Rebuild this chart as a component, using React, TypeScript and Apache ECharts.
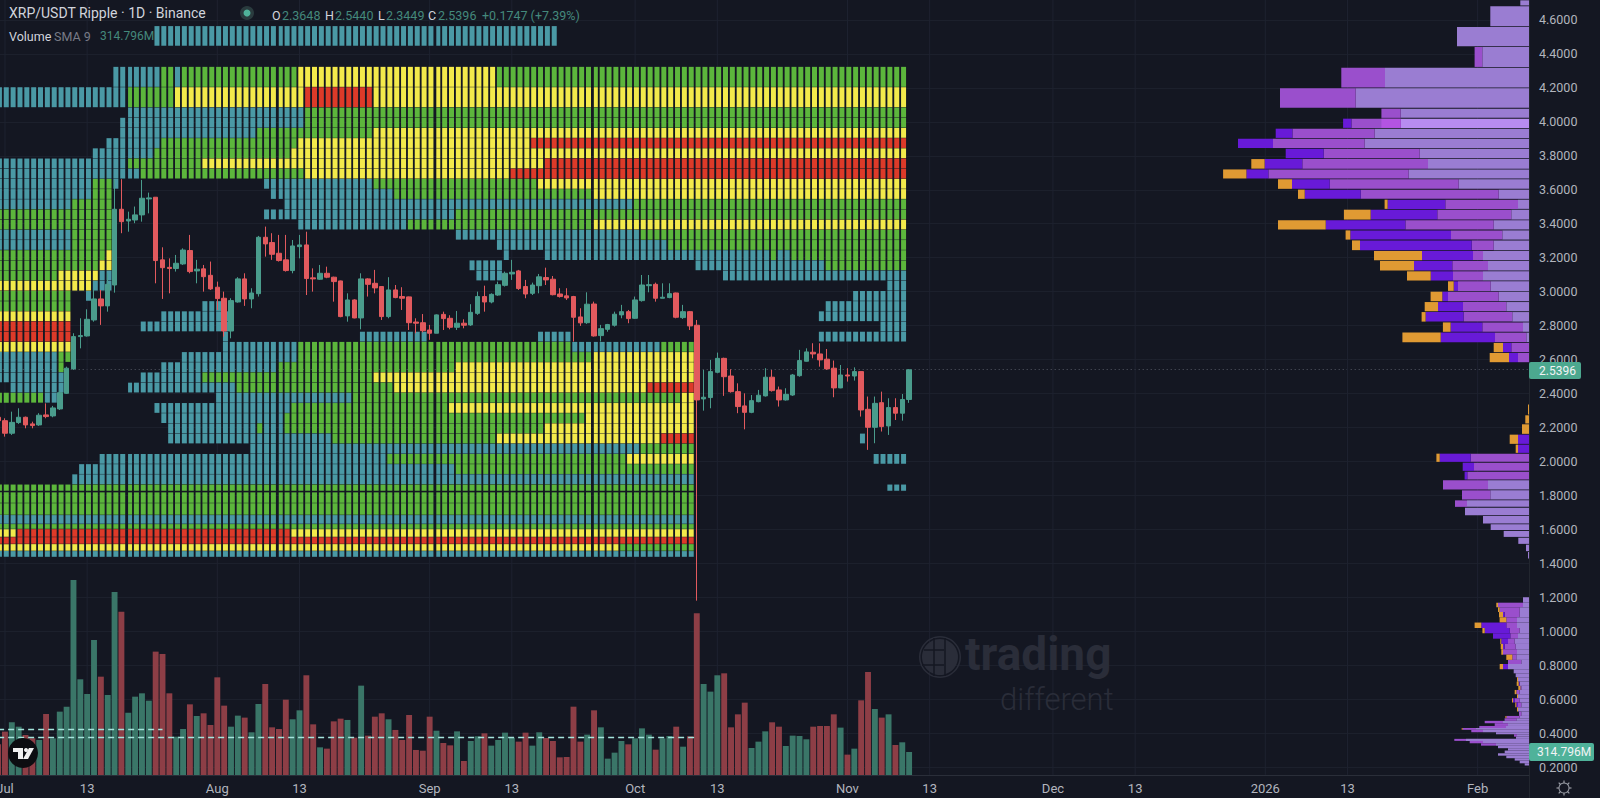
import React, { useEffect, useRef } from "react";
import * as echarts from "echarts";

const FIRST_DAY = Date.UTC(2025, 5, 30);
const CATEGORY_COUNT = 224;
const tickLabels: Record<string, string> = {
  "07-01": "Jul", "07-13": "13", "08-01": "Aug", "08-13": "13", "09-01": "Sep", "09-13": "13",
  "10-01": "Oct", "10-13": "13", "11-01": "Nov", "11-13": "13", "12-01": "Dec", "12-13": "13",
  "01-01": "2026", "01-13": "13", "02-01": "Feb",
};
const priceTicks = [4.6, 4.4, 4.2, 4.0, 3.8, 3.6, 3.4, 3.2, 3.0, 2.8, 2.6, 2.4, 2.2, 2.0, 1.8, 1.6, 1.4, 1.2, 1.0, 0.8, 0.6, 0.4, 0.2];

// open, close, low, high; first entry is the 30 June candle, mostly outside the left edge
const candles: number[][] = [
  [2.26, 2.24, 2.22, 2.28],
  [2.240,2.166,2.146,2.254],[2.166,2.230,2.156,2.293],[2.229,2.260,2.221,2.313],[2.260,2.215,2.195,2.264],[2.221,2.211,2.195,2.234],
  [2.215,2.272,2.209,2.284],[2.274,2.264,2.254,2.342],[2.268,2.315,2.260,2.327],[2.309,2.405,2.303,2.421],[2.401,2.549,2.397,2.558],
  [2.545,2.735,2.539,2.755],[2.735,2.741,2.666,2.843],[2.739,2.837,2.735,2.896],[2.833,2.957,2.823,3.010],[2.957,2.916,2.804,3.010],
  [2.916,3.043,2.882,3.108],[3.039,3.485,2.994,3.658],[3.485,3.412,3.344,3.662],[3.416,3.426,3.353,3.471],[3.422,3.452,3.403,3.501],
  [3.452,3.550,3.412,3.658],[3.546,3.552,3.461,3.583],[3.556,3.183,3.049,3.556],[3.187,3.141,2.957,3.261],[3.143,3.136,2.990,3.196],
  [3.136,3.167,3.118,3.216],[3.163,3.245,3.157,3.255],[3.242,3.118,3.108,3.334],[3.122,3.132,3.049,3.187],[3.134,3.088,3.000,3.157],
  [3.096,3.016,3.010,3.177],[3.026,2.959,2.892,3.059],[2.961,2.768,2.735,3.000],[2.768,2.947,2.725,2.961],[2.939,3.075,2.935,3.085],
  [3.075,2.957,2.916,3.108],[2.957,2.992,2.902,3.020],[2.988,3.320,2.971,3.328],[3.320,3.281,3.206,3.383],[3.289,3.220,3.187,3.344],
  [3.226,3.183,3.177,3.334],[3.187,3.124,3.118,3.334],[3.124,3.269,3.108,3.304],[3.265,3.275,3.196,3.334],[3.275,3.077,2.980,3.353],
  [3.081,3.075,3.000,3.137],[3.073,3.108,3.069,3.157],[3.108,3.085,3.079,3.147],[3.085,3.059,2.941,3.088],[3.063,2.853,2.849,3.065],
  [2.857,2.951,2.823,2.990],[2.951,2.845,2.843,2.955],[2.845,3.075,2.778,3.108],[3.075,3.043,2.971,3.079],[3.049,3.022,2.990,3.128],
  [3.030,2.853,2.833,3.030],[2.853,3.010,2.843,3.085],[3.010,2.965,2.961,3.039],[2.971,2.961,2.892,3.026],[2.969,2.817,2.774,2.971],
  [2.821,2.814,2.755,2.843],[2.817,2.770,2.760,2.868],[2.774,2.755,2.716,2.804],[2.755,2.863,2.755,2.866],[2.866,2.841,2.774,2.882],
  [2.843,2.790,2.778,2.861],[2.790,2.814,2.774,2.886],[2.814,2.802,2.784,2.837],[2.804,2.878,2.798,2.926],[2.872,2.971,2.863,3.000],
  [2.971,2.939,2.882,3.035],[2.939,2.984,2.931,2.990],[2.980,3.041,2.975,3.059],[3.037,3.108,3.030,3.118],[3.104,3.114,3.069,3.187],
  [3.122,3.018,3.010,3.128],[3.030,2.986,2.961,3.069],[2.990,3.039,2.980,3.053],[3.035,3.087,2.990,3.104],[3.083,3.069,3.039,3.141],
  [3.073,2.982,2.978,3.092],[2.986,2.971,2.965,3.020],[2.975,2.963,2.951,3.020],[2.971,2.849,2.706,2.975],[2.851,2.816,2.798,2.902],
  [2.817,2.926,2.810,2.996],[2.927,2.739,2.735,2.941],[2.741,2.782,2.706,2.804],[2.778,2.806,2.764,2.810],[2.802,2.867,2.794,2.882],
  [2.863,2.882,2.843,2.922],[2.882,2.841,2.814,2.892],[2.843,2.951,2.839,2.971],[2.947,3.039,2.941,3.098],[3.035,3.041,2.996,3.098],
  [3.043,2.961,2.941,3.053],[2.961,2.967,2.961,3.049],[2.965,2.988,2.961,3.049],[2.992,2.849,2.843,2.994],[2.847,2.882,2.839,2.922],
  [2.882,2.798,2.774,2.886],[2.802,2.362,1.18,2.833],[2.368,2.378,2.299,2.539],[2.376,2.529,2.313,2.598],[2.525,2.607,2.519,2.641],
  [2.607,2.499,2.386,2.611],[2.503,2.411,2.405,2.543],[2.411,2.323,2.284,2.460],[2.327,2.289,2.189,2.401],[2.289,2.358,2.284,2.391],
  [2.352,2.390,2.348,2.421],[2.386,2.496,2.382,2.549],[2.496,2.417,2.411,2.539],[2.421,2.362,2.323,2.441],[2.362,2.395,2.358,2.431],
  [2.391,2.509,2.386,2.515],[2.505,2.594,2.499,2.657],[2.590,2.645,2.588,2.666],[2.643,2.633,2.607,2.696],[2.633,2.598,2.558,2.696],
  [2.602,2.545,2.539,2.662],[2.549,2.433,2.378,2.594],[2.433,2.509,2.431,2.568],[2.509,2.503,2.470,2.549],[2.503,2.529,2.476,2.554],
  [2.529,2.303,2.264,2.529],[2.307,2.201,2.068,2.382],[2.201,2.342,2.107,2.382],[2.346,2.205,2.176,2.411],[2.209,2.317,2.156,2.372],
  [2.317,2.284,2.244,2.372],[2.284,2.3648,2.240,2.397],[2.3648,2.5396,2.3449,2.5440],
];

// volume in millions, same days as the candles
const volumes = [
  420,594,722,662,548,502,480,836,502,868,936,2672,1311,1110,1850,1347,1096,2507,2238,854,1073,1119,1018,1690,1658,1119,525,630,968,808,845,685,
  1338,950,662,813,786,585,973,1247,653,630,1032,763,886,1366,694,379,361,735,772,754,512,1224,539,799,845,763,617,480,822,343,333,799,607,438,
  406,598,192,466,530,571,402,480,580,507,457,580,402,585,507,466,242,247,936,457,553,886,653,224,306,466,420,502,639,553,347,502,534,662,388,530,
  2215,1247,1142,1366,1393,653,831,991,370,457,598,722,662,397,539,534,489,662,671,671,831,649,279,361,1023,1411,904,786,831,411,448,315,
];

const lastPrice = 2.5396;
const lastVolumeLabel = "314.796M";
const smaValueLong = 511;
const smaValueShort = 630;

// price edges of the heat-map rows
const rowEdges = [
  4.565,4.447,4.325,4.205,4.085,4.025,3.965,3.905,3.845,3.785,3.725,3.665,3.605,3.545,3.485,3.425,3.365,3.305,3.245,3.185,3.125,
  3.065,3.005,2.945,2.885,2.825,2.765,2.705,2.645,2.585,2.525,2.465,2.405,2.345,2.285,2.225,2.165,2.105,2.045,1.985,1.925,1.865,
  1.826,1.755,1.685,1.632,1.602,1.555,1.514,1.473,1.437,
];
const heavyEdge = 1.826;
const heavyGapDays = [18, 40, 63, 86];

// one entry per row: runs of days (day 0 = 1 July) with a level b, g, y or r
const rowRuns = [
  "b22:80",
  "",
  "b16:22 g23:24 b25:25 g26:42 y43:71 g72:131",
  "b-1:17 g18:24 y25:43 r44:53 y54:131",
  "b18:43 g44:131",
  "b17:43 g44:131",
  "b17:36 g37:53 y54:131",
  "b15:22 g23:42 y43:76 r77:131",
  "b13:21 g22:41 y42:131",
  "b-1:17 g18:28 y29:78 r79:131",
  "b-1:19 g20:43 y44:73 r74:131",
  "b-1:12 g13:15 b16:16 b38:53 g54:77 y78:131",
  "b-1:12 g13:15 b39:56 g57:85 y86:131",
  "b-1:9 g10:15 b41:91 g92:131",
  "g-1:15 b38:65 g66:131",
  "g-1:15 b43:58 g59:85 y86:131",
  "b-1:9 g10:15 b66:92 g93:131",
  "b-1:9 g10:15 b72:96 g97:131",
  "g-1:14 y15:15 b73:73 b79:111 g112:112 b113:114 g115:131",
  "g-1:13 y14:15 b68:72 b101:119 g120:131",
  "g-1:7 y8:13 b14:15 b69:72 b105:131",
  "y-1:12 b13:15 b129:131",
  "g-1:9 b12:12 b124:131",
  "g-1:9 b29:31 b120:131",
  "y-1:9 b23:32 b119:131",
  "r-1:9 b20:32 b128:131",
  "r-1:9 b32:32 b52:61 b78:82 b119:131",
  "y-1:9 b32:42 g43:82 b83:95 g96:100",
  "b-1:7 g8:9 b26:42 g43:85 y86:100",
  "b-1:7 g8:8 b23:39 g40:65 y66:100",
  "b-1:8 b20:28 g29:53 y54:100",
  "b1:8 b18:33 g34:56 y57:93 r94:100",
  "g-1:5 b6:7 b31:50 g51:98 y99:100",
  "b22:41 g42:64 y65:100",
  "b23:40 g41:84 y85:100",
  "b24:36 g37:37 b38:40 g41:78 y79:100",
  "b24:47 g48:71 y72:95 r96:100 b125:125",
  "b36:92 g93:100",
  "b14:55 g56:90 y91:100 b127:131",
  "b11:65 g66:100",
  "b10:100",
  "g-1:100 b129:131",
  "g-1:100",
  "g-1:100",
  "b-1:100",
  "g-1:100",
  "y-1:1 r2:41 y42:100",
  "r-1:100",
  "y-1:89 g90:100",
  "b-1:100",
];

// volume profile: top price, bottom price, then four stacked amounts from the right
const upperProfile = [
  [4.718,4.683,8.7,0,0,0],[4.683,4.561,38.7,0,0,0],[4.561,4.443,72,0,0,0],[4.443,4.321,46.7,7.7,0,0],[4.321,4.2,144,43.7,0,0],
  [4.2,4.08,173.3,75.7,0,0],[4.08,4.021,128.3,19.3,0,0],
];
const profileRest = [
  [4.021,3.962,128.3,49.3,8.3,0],[3.962,3.903,154.3,82.3,16.7,0],[3.903,3.844,164.3,91.7,35,0],[3.844,3.783,109.3,96,38,0],
  [3.783,3.722,101,125.7,37.7,13.3],[3.722,3.664,120.3,140.3,22,23.3],[3.664,3.603,70.3,129,37.7,14],[3.603,3.544,30.3,138,56,6.7],
  [3.544,3.485,11,72.7,57.7,3],[3.485,3.422,17.7,74,66.7,26.7],[3.422,3.363,35.3,88.3,79.7,47.7],[3.363,3.304,26.7,51.3,100.7,4.7],
  [3.304,3.242,35.3,22,111.7,8],[3.242,3.183,46,10,51,48],[3.183,3.122,41,35.7,38.3,34],[3.122,3.063,46,30,22.3,23.7],
  [3.063,3.002,38.3,32.7,4.3,5.7],[3.002,2.941,30.3,50.7,5.7,11.7],[2.941,2.882,22.7,43.3,25,13.3],[2.882,2.821,16.7,48.7,38,4],
  [2.821,2.761,6,40.7,31.7,7.7],[2.761,2.700,2.7,31.3,54.3,38.3],[2.700,2.641,0,17.7,8.3,9.3],[2.641,2.582,0,11,9,19.3],
];
const middleProfile = [
  [2.338,2.274,0,0,0,1],[2.274,2.221,0,0,0,3.7],[2.221,2.160,0,0,0,7],[2.160,2.101,0,0,11,8.3],[2.101,2.048,0,0,11,2.3],
  [2.048,1.995,0,58.3,31,3.3],[1.995,1.942,0,55,11.3,0],[1.942,1.891,0,61.7,2.7,0],[1.891,1.832,41,45,0,0],[1.832,1.773,38.7,28.3,0,0],
  [1.773,1.730,62,12,0,0],[1.730,1.681,64,0,0,0],[1.681,1.632,46,0,0,0],[1.632,1.593,38.3,0,0,0],[1.593,1.553,25.3,0,0,0],
  [1.553,1.512,10.7,0,0,0],[1.512,1.469,3,0,0,0],[1.469,1.426,1,0,0,0],
];
const lowerProfile = [
  [1.200,1.168,6,0,0,0],[1.168,1.141,6,25,0,1.7],[1.141,1.113,9.3,20,0,1.7],[1.113,1.082,9.3,15,1.7,4],[1.082,1.051,12,10.7,0,6.7],
  [1.051,1.019,12,10.7,25,6.7],[1.019,0.988,9.3,10,25,2.3],[0.988,0.956,11,7.7,17.3,0],[0.956,0.925,14.3,6.7,6.7,1],[0.925,0.894,13.3,11,1.7,2.3],
  [0.894,0.862,12,14,0,1.7],[0.862,0.831,12.7,4,0,6],[0.831,0.807,7.7,13.3,0,0],[0.807,0.776,21,0,5,3.3],[0.776,0.752,15.3,0,0,0],
  [0.752,0.729,13.3,0,0,0],[0.729,0.703,11,0,0,1],[0.703,0.678,9.3,0,1,2],[0.678,0.654,7.7,1,0,2],[0.654,0.629,9.3,3.3,0,1.7],
  [0.629,0.605,11,0,0,1],[0.605,0.580,9.3,5,1.7,1],[0.580,0.552,7.7,3.3,1.7,1],[0.552,0.527,11,0,0,1],[0.527,0.501,7.7,2.3,0,0],
  [0.501,0.487,9.3,13.3,0,1],[0.487,0.472,12.7,11.7,0,0],[0.472,0.458,26,18.3,0,0],[0.458,0.442,21,13.3,0,0],[0.442,0.430,23,26.7,0,0],
  [0.430,0.419,53,13.3,0,1],[0.419,0.405,46,11.7,0,0],[0.405,0.393,33,0,0,0],[0.393,0.379,12,3,0,0],[0.379,0.366,13,0,0,0],
  [0.366,0.354,63,11.7,0,0],[0.354,0.340,46,13.3,0,0],[0.340,0.326,33,15,0,0],[0.326,0.311,31,0,0,0],[0.311,0.297,21,0,0,0],
  [0.297,0.281,24.3,0,0,0],[0.281,0.267,31,0,0,0],[0.267,0.252,22.7,0,0,0],[0.252,0.238,14.3,0,0,0],[0.238,0.222,9.3,0,0,0],[0.222,0.209,4.3,0,0,0],
];
const brightProfileTop = 4.021;
const brightMidAmount = 19.3;

const BG = "#141722";
const FONT = "Roboto, 'Noto Sans', sans-serif";
const LEVEL_COLORS: Record<string, string> = { b: "#4a99a5", g: "#5cb63c", y: "#f3ea4b", r: "#dd3a29" };
const LEVELS = Object.keys(LEVEL_COLORS);
const PROFILE_COLORS = ["#9a7dd2", "#9a4fcc", "#681ad8", "#e09a33"];
const GRID_LEFT = -5.3;
const GRID_WIDTH = 1534.3;
const PANE_TOP = -14;
const PANE_HEIGHT = 815;
const VOL_TOP = 556;
const VOL_HEIGHT = 219;

function dayKey(i: number) {
  const d = new Date(FIRST_DAY + i * 86400000);
  return String(d.getUTCMonth() + 1).padStart(2, "0") + "-" + String(d.getUTCDate()).padStart(2, "0");
}

function buildOption() {
  const categories = Array.from({ length: CATEGORY_COUNT }, (_, i) => dayKey(i));
  const tickCats = categories.map((c, i) => (tickLabels[c] ? i : -1)).filter((i) => i >= 0);

  const cells: number[][] = [];
  rowRuns.forEach((runs, row) => {
    for (const m of runs.matchAll(/([bgyr])(-?\d+):(-?\d+)/g)) {
      for (let d = +m[2]; d <= +m[3]; d++) cells.push([d + 1, row, LEVELS.indexOf(m[1])]);
    }
  });

  const volumeData = volumes.map((v, i) => ({
    value: v,
    itemStyle: { color: candles[i][1] >= candles[i][0] ? "#3a7668" : "#8d3e46" },
  }));

  const profile = [...upperProfile, ...profileRest, ...middleProfile, ...lowerProfile];
  const profileCells = profile.map((_, i) => [i]);

  const renderHeat = (_p: any, api: any) => {
    const cat = api.value(0);
    const row = api.value(1);
    const a = api.coord([cat, rowEdges[row]]);
    const b = api.coord([cat, rowEdges[row + 1]]);
    const heavyCol = heavyGapDays.includes(cat - 1);
    const topGap = rowEdges[row] === heavyEdge ? 1.4 : 0.2;
    return {
      type: "rect",
      shape: {
        x: a[0] - 1.2 + (heavyCol ? 1 : 0),
        y: a[1] + topGap,
        width: heavyCol ? 4 : 5,
        height: b[1] - a[1] - topGap - 0.2,
      },
      style: { fill: LEVEL_COLORS[LEVELS[api.value(2)]] },
    };
  };

  const renderGridLine = (_p: any, api: any) => {
    const a = api.coord([api.value(0), 4.8]);
    const b = api.coord([api.value(0), 0.154]);
    return {
      type: "line",
      shape: { x1: a[0], y1: a[1], x2: b[0], y2: b[1] },
      style: { stroke: "#1e2230", lineWidth: 1 },
    };
  };

  const renderProfile = (_p: any, api: any) => {
    const row = profile[api.value(0)];
    const bright = row[0] === brightProfileTop;
    const small = row[0] < 1.3;
    const gap = small ? 0 : 0.4;
    let sum = 0;
    const children: any[] = [];
    for (let s = 0; s < 4; s++) {
      const w = row[2 + s];
      if (w <= 0) continue;
      const a = api.coord([sum + w, row[0]]);
      const b = api.coord([sum, row[1]]);
      children.push({
        type: "rect",
        shape: { x: a[0], y: a[1] + gap, width: b[0] - a[0], height: b[1] - a[1] - 2 * gap },
        style: { fill: bright && s === 0 ? "#b78cf0" : PROFILE_COLORS[s] },
      });
      if (bright && s === 1) {
        const c = api.coord([sum + brightMidAmount, row[0]]);
        const e = api.coord([sum, row[1]]);
        children.push({
          type: "rect",
          shape: { x: c[0], y: c[1] + gap, width: e[0] - c[0], height: e[1] - c[1] - 2 * gap },
          style: { fill: "#b354e2" },
        });
      }
      sum += w;
    }
    return { type: "group", children };
  };

  const textEl = (text: string, x: number, y: number, fill: string, size: number, extra: any = {}) => ({
    type: "text",
    z: 100,
    silent: true,
    style: { text, x, y, fill, fontSize: size, fontFamily: FONT, textVerticalAlign: "middle", ...extra },
  });

  const gearRays = Array.from({ length: 8 }, (_, i) => {
    const t = (i * Math.PI) / 4;
    return {
      type: "line",
      z: 100,
      shape: { x1: 1564 + 5 * Math.cos(t), y1: 788 + 5 * Math.sin(t), x2: 1564 + 7.5 * Math.cos(t), y2: 788 + 7.5 * Math.sin(t) },
      style: { stroke: "#9a9da6", lineWidth: 1.2 },
    };
  });

  const watermark = "#2a2d39";
  const graphic = [
    textEl("XRP/USDT Ripple · 1D · Binance", 9, 13, "#d1d4dc", 14),
    { type: "circle", z: 100, shape: { cx: 247, cy: 13, r: 7 }, style: { fill: "#2a3b3e" } },
    { type: "circle", z: 101, shape: { cx: 247, cy: 13, r: 3.5 }, style: { fill: "#4fb29a" } },
    textEl("O", 272, 15, "#d1d4dc", 12.5),
    textEl("2.3648", 282, 15, "#44897c", 12.5),
    textEl("H", 325, 15, "#d1d4dc", 12.5),
    textEl("2.5440", 335, 15, "#44897c", 12.5),
    textEl("L", 378, 15, "#d1d4dc", 12.5),
    textEl("2.3449", 386, 15, "#44897c", 12.5),
    textEl("C", 428, 15, "#d1d4dc", 12.5),
    textEl("2.5396", 438, 15, "#44897c", 12.5),
    textEl("+0.1747 (+7.39%)", 482, 15, "#44897c", 12.5),
    textEl("Volume", 9, 36, "#d1d4dc", 12.5),
    textEl("SMA 9", 54, 36, "#787b86", 12.5),
    textEl("314.796M", 100, 36, "#44897c", 12),

    { type: "rect", z: 100, shape: { x: 1529, y: 362, width: 52, height: 17, r: 2 }, style: { fill: "#4ca88f" } },
    textEl("2.5396", 1539, 370.5, "#f2f3f5", 12),
    { type: "rect", z: 100, shape: { x: 1529, y: 743, width: 65, height: 18, r: 2 }, style: { fill: "#4fb29a" } },
    textEl(lastVolumeLabel, 1537, 752, "#f2f3f5", 12),

    { type: "circle", z: 100, shape: { cx: 23, cy: 753, r: 15 }, style: { fill: "#0c0d11" } },
    { type: "rect", z: 101, shape: { x: 13, y: 748, width: 10, height: 4 }, style: { fill: "#f0f0f0" } },
    { type: "rect", z: 101, shape: { x: 18, y: 748, width: 5, height: 11 }, style: { fill: "#f0f0f0" } },
    { type: "circle", z: 101, shape: { cx: 26, cy: 750, r: 2 }, style: { fill: "#f0f0f0" } },
    { type: "polygon", z: 101, shape: { points: [[29, 748], [34, 748], [28, 759], [23, 759]] }, style: { fill: "#f0f0f0" } },

    { type: "ring", z: 100, shape: { cx: 1564, cy: 788, r: 5.5, r0: 4.5 }, style: { fill: "#9a9da6" } },
    ...gearRays,

    { type: "ring", z: 2, shape: { cx: 940, cy: 657, r: 21, r0: 19.5 }, style: { fill: watermark } },
    { type: "circle", z: 2, shape: { cx: 940, cy: 657, r: 18 }, style: { fill: watermark } },
    { type: "line", z: 2, shape: { x1: 924, y1: 650, x2: 944, y2: 650 }, style: { stroke: BG, lineWidth: 1.5 } },
    { type: "line", z: 2, shape: { x1: 922, y1: 665, x2: 944, y2: 665 }, style: { stroke: BG, lineWidth: 1.5 } },
    { type: "line", z: 2, shape: { x1: 934, y1: 638, x2: 934, y2: 676 }, style: { stroke: BG, lineWidth: 1.5 } },
    { type: "line", z: 2, shape: { x1: 945, y1: 638, x2: 945, y2: 676 }, style: { stroke: BG, lineWidth: 1.5 } },
    {
      type: "text",
      z: 2,
      silent: true,
      style: { text: "trading", x: 965, y: 654, fill: watermark, fontSize: 46, fontWeight: 700, fontFamily: "Roboto, sans-serif", textVerticalAlign: "middle" },
    },
    {
      type: "text",
      z: 2,
      silent: true,
      style: { text: "different", x: 1000, y: 699, fill: watermark, fontSize: 31, fontWeight: 300, fontFamily: "Roboto, sans-serif", textVerticalAlign: "middle" },
    },
  ];

  return {
    animation: false,
    backgroundColor: BG,
    textStyle: { fontFamily: FONT },
    graphic,
    grid: [
      { left: GRID_LEFT, width: GRID_WIDTH, top: PANE_TOP, height: PANE_HEIGHT, outerBoundsMode: "none" },
      { left: GRID_LEFT, width: GRID_WIDTH, top: VOL_TOP, height: VOL_HEIGHT, outerBoundsMode: "none" },
      { left: 1189, width: 340, top: PANE_TOP, height: PANE_HEIGHT, outerBoundsMode: "none" },
    ],
    xAxis: [
      { type: "category", gridIndex: 0, data: categories, show: false },
      {
        type: "category",
        gridIndex: 1,
        data: categories,
        axisTick: { show: false },
        axisLine: { lineStyle: { color: "#2a2e39" } },
        splitLine: { show: false },
        axisLabel: {
          interval: (_i: number, v: string) => !!tickLabels[v],
          formatter: (v: string) => tickLabels[v] || "",
          color: "#b2b5be",
          fontSize: 13,
          fontFamily: FONT,
          margin: 7,
        },
      },
      { type: "value", gridIndex: 2, min: 0, max: 340, inverse: true, show: false },
    ],
    yAxis: [
      {
        type: "value",
        gridIndex: 0,
        min: 0,
        max: 4.8,
        interval: 0.2,
        position: "right",
        axisTick: { show: false },
        axisLine: { show: true, lineStyle: { color: "#22262f" } },
        splitLine: { show: true, lineStyle: { color: "#1c202c", width: 1 } },
        axisLabel: {
          showMinLabel: false,
          showMaxLabel: false,
          color: "#b2b5be",
          fontSize: 12.5,
          fontFamily: FONT,
          margin: 10,
          formatter: (v: number) => (priceTicks.some((t) => Math.abs(t - v) < 1e-6) ? v.toFixed(4) : ""),
        },
      },
      { type: "value", gridIndex: 1, min: 0, max: 3000, show: false },
      { type: "value", gridIndex: 2, min: 0, max: 4.8, show: false },
    ],
    series: [
      {
        name: "Grid",
        type: "custom",
        xAxisIndex: 0,
        yAxisIndex: 0,
        z: 0,
        silent: true,
        renderItem: renderGridLine,
        encode: { x: 0 },
        data: tickCats.map((c) => [c]),
      },
      {
        name: "Liquidity",
        type: "custom",
        xAxisIndex: 0,
        yAxisIndex: 0,
        z: 1,
        silent: true,
        progressive: 0,
        renderItem: renderHeat,
        encode: { x: 0 },
        data: cells,
      },
      {
        name: "XRP/USDT",
        type: "candlestick",
        xAxisIndex: 0,
        yAxisIndex: 0,
        z: 3,
        barWidth: 5,
        progressive: 0,
        itemStyle: { color: "#4a9c8c", color0: "#e25a5e", borderColor: "#4a9c8c", borderColor0: "#e25a5e", borderWidth: 1 },
        data: candles,
        markLine: {
          silent: true,
          z: 0,
          symbol: "none",
          animation: false,
          label: { show: false },
          lineStyle: { color: "#565a66", type: [1, 3], width: 1 },
          data: [{ yAxis: lastPrice }],
        },
      },
      {
        name: "Volume",
        type: "bar",
        xAxisIndex: 1,
        yAxisIndex: 1,
        z: 2,
        barWidth: 5.9,
        data: volumeData,
        markLine: {
          silent: true,
          symbol: "none",
          animation: false,
          label: { show: false },
          lineStyle: { color: "#a4e4dc", type: [6, 4], width: 1.4 },
          data: [
            [{ coord: [categories[0], smaValueLong] }, { coord: [categories[102], smaValueLong] }],
            [{ coord: [categories[0], smaValueShort] }, { coord: [categories[24], smaValueShort] }],
          ],
        },
      },
      {
        name: "Volume profile",
        type: "custom",
        xAxisIndex: 2,
        yAxisIndex: 2,
        z: 2,
        silent: true,
        progressive: 0,
        renderItem: renderProfile,
        encode: { x: 0 },
        data: profileCells,
      },
    ],
  };
}

export default function App() {
  const ref = useRef<HTMLDivElement>(null);
  useEffect(() => {
    document.body.style.margin = "0";
    document.body.style.background = BG;
    const chart = echarts.init(ref.current!, undefined, { renderer: "svg" });
    chart.setOption(buildOption() as any);
    return () => chart.dispose();
  }, []);
  return <div ref={ref} style={{ position: "fixed", left: 0, top: 0, width: 1600, height: 798 }} />;
}
